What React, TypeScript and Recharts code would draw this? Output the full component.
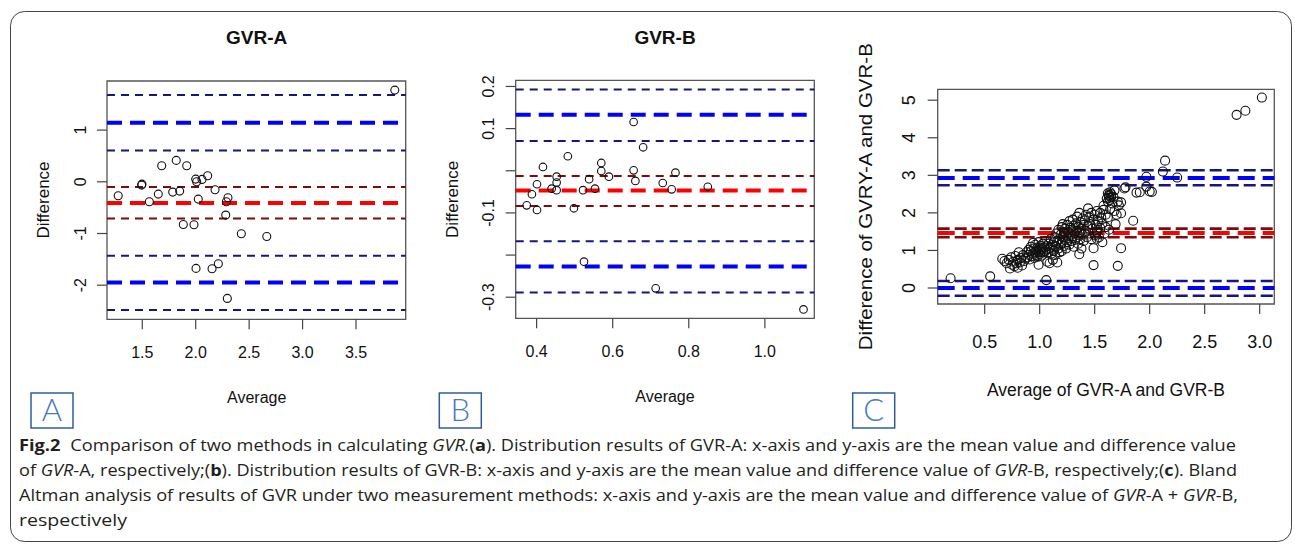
import React from "react";
import { ScatterChart, Scatter, XAxis, YAxis, ReferenceLine, ReferenceArea } from "recharts";

// ---- panel A: GVR-A ----
const aAvg = [3.863, 1.682, 1.818, 1.916, 2.0, 2.009, 2.059, 2.112, 1.494, 1.497, 1.275, 1.566, 1.65, 1.785, 1.85, 2.024, 2.181, 2.302, 2.287, 2.281, 1.884, 1.984, 2.427, 2.665, 2.003, 2.153, 2.212, 2.296];
const aDiff = [1.774, 0.31, 0.414, 0.31, 0.052, 0.0, 0.046, 0.116, -0.064, -0.045, -0.27, -0.387, -0.238, -0.199, -0.18, -0.335, -0.155, -0.309, -0.387, -0.644, -0.825, -0.831, -1.006, -1.057, -1.675, -1.683, -1.586, -2.256];
const aMean = -0.41;
const aMeanCi = [-0.1, -0.71];
const aLoa = [1.14, -1.95];
const aLoaCi = [1.677, 0.607, -1.43, -2.48];
const aXTicks = [1.5, 2.0, 2.5, 3.0, 3.5];
const aYTicks = [1, 0, -1, -2];

// ---- panel B: GVR-B ----
const bAvg = [0.655, 0.68, 0.482, 0.4166, 0.57, 0.57, 0.655, 0.765, 0.59, 0.4526, 0.538, 0.4526, 0.401, 0.6596, 0.7316, 0.4395, 0.4526, 0.522, 0.5534, 0.755, 0.85, 0.3876, 0.374, 0.401, 0.498, 0.5245, 0.713, 1.1016];
const bDiff = [0.1157, 0.0557, 0.0344, 0.009, 0.0185, -0.0005, 0.001, -0.0045, -0.014, -0.014, -0.02, -0.028, -0.032, -0.024, -0.029, -0.0424, -0.046, -0.046, -0.0424, -0.044, -0.038, -0.0557, -0.082, -0.093, -0.089, -0.2156, -0.279, -0.329];
const bMean = -0.047;
const bMeanCi = [-0.0123, -0.0835];
const bLoa = [0.133, -0.227];
const bLoaCi = [0.193, 0.0707, -0.167, -0.289];
const bXTicks = [0.4, 0.6, 0.8, 1.0];
const bYTicks = [0.2, 0.1, 0.0, -0.1, -0.2, -0.3];
const bHiddenY = [0.0, -0.2];

// ---- panel C: GVR-A vs GVR-B (average, difference) ----
const cPoints: [number, number][] = [
  [0.19, 0.26], [0.55, 0.31],
  [0.66, 0.78], [0.68, 0.72], [0.7, 0.66], [0.72, 0.75], [0.73, 0.52], [0.74, 0.82], [0.75, 0.62], [0.76, 0.7],
  [0.77, 0.58], [0.78, 0.85], [0.79, 0.66], [0.8, 0.54], [0.8, 0.75], [0.81, 0.95], [0.82, 0.68], [0.83, 0.8],
  [0.84, 0.6], [0.85, 0.88], [0.86, 0.72], [0.87, 0.78],
  [0.88, 0.95], [0.89, 0.82], [0.9, 1.02], [0.9, 0.88], [0.91, 0.76], [0.92, 0.98], [0.92, 1.1], [0.93, 0.85],
  [0.94, 1.2], [0.94, 0.92], [0.95, 1.05], [0.95, 0.8], [0.96, 0.96], [0.96, 1.15], [0.97, 0.88], [0.97, 1.0],
  [0.98, 1.08], [0.98, 0.83], [0.99, 0.95], [0.99, 1.22], [1.0, 1.02], [1.0, 0.9], [0.99, 0.62], [1.01, 1.12],
  [1.01, 0.97], [1.02, 1.05], [1.02, 0.86], [1.03, 1.18], [1.03, 0.95],
  [1.04, 1.08], [1.05, 0.98], [1.05, 1.25], [1.06, 1.02], [1.06, 0.21], [1.07, 1.12], [1.07, 0.7], [1.08, 0.95],
  [1.08, 1.18], [1.09, 1.05], [1.09, 0.66], [1.1, 1.1], [1.1, 1.3], [1.11, 0.92], [1.11, 1.02], [1.12, 1.15],
  [1.12, 0.75], [1.13, 1.22], [1.13, 1.0], [1.14, 1.35], [1.14, 0.88], [1.15, 1.1], [1.15, 1.45], [1.16, 1.25],
  [1.16, 0.68], [1.17, 1.05], [1.17, 1.55], [1.18, 1.3], [1.18, 0.95], [1.19, 1.42], [1.19, 1.15], [1.2, 1.62],
  [1.2, 1.2], [1.2, 0.98],
  [1.21, 1.35], [1.21, 1.7], [1.22, 1.12], [1.22, 1.48], [1.23, 1.28], [1.23, 1.58], [1.24, 1.05], [1.24, 1.4],
  [1.25, 1.68], [1.25, 1.22], [1.26, 1.5], [1.26, 1.32], [1.27, 1.15], [1.27, 1.78], [1.28, 1.42], [1.28, 1.6],
  [1.29, 1.25], [1.3, 1.55], [1.3, 1.38], [1.3, 1.82], [1.31, 1.1], [1.31, 1.65], [1.32, 1.45], [1.32, 1.28],
  [1.33, 1.72], [1.33, 1.52], [1.34, 1.35], [1.34, 1.9], [1.35, 1.62], [1.35, 1.18], [1.36, 1.48], [1.36, 2.0],
  [1.36, 0.9], [1.37, 1.75], [1.37, 1.3], [1.38, 1.58], [1.38, 1.05], [1.39, 1.85], [1.39, 1.42], [1.4, 1.68],
  [1.4, 1.25],
  [1.41, 1.8], [1.42, 1.52], [1.42, 1.95], [1.43, 1.35], [1.44, 2.12], [1.44, 1.65], [1.45, 1.45], [1.45, 1.88],
  [1.46, 1.7], [1.47, 1.3], [1.47, 2.0], [1.48, 1.58], [1.49, 0.61], [1.49, 1.06], [1.49, 1.82], [1.5, 1.4],
  [1.5, 1.95], [1.51, 1.68], [1.52, 2.05], [1.52, 1.5], [1.52, 1.31], [1.53, 1.78], [1.54, 1.35], [1.55, 2.0],
  [1.55, 1.6], [1.56, 1.88], [1.57, 1.72], [1.57, 1.22], [1.58, 2.19], [1.58, 2.08], [1.59, 1.45], [1.6, 1.95],
  [1.6, 1.62],
  [1.61, 2.38], [1.62, 2.52], [1.62, 2.3], [1.63, 2.45], [1.63, 2.4], [1.63, 2.48], [1.64, 2.55], [1.64, 2.35],
  [1.65, 2.42], [1.65, 2.5], [1.62, 1.88], [1.63, 1.55], [1.64, 2.1], [1.66, 2.25], [1.67, 2.43], [1.68, 2.6],
  [1.68, 2.05], [1.69, 1.7], [1.7, 1.95], [1.71, 0.59], [1.71, 2.3], [1.72, 2.2], [1.74, 1.06], [1.74, 1.99],
  [1.74, 2.28], [1.77, 2.65], [1.78, 2.68],
  [1.85, 1.79], [1.88, 2.54], [1.91, 2.55], [1.97, 2.96], [1.97, 2.7], [2.0, 2.57], [2.02, 2.56], [2.12, 3.1],
  [2.14, 3.39], [2.25, 2.94], [2.79, 4.61], [2.87, 4.72], [3.02, 5.07],
];
const cMean = 1.465;
const cMeanCi = [1.58, 1.35];
const cLoa = [2.93, 0.0];
const cLoaCi = [3.134, 2.735, 0.186, -0.205];
const cXTicks = [0.5, 1.0, 1.5, 2.0, 2.5, 3.0];
const cYTicks = [0, 1, 2, 3, 4, 5];

const FONT = "'Liberation Sans', Arial, Helvetica, sans-serif";
const NAVY = "#16167e";
const BLUE = "#0000ff";
const RED = "#ff0000";
const DARKRED = "#7d0b0b";

type LineStyle = { thin: number; thick: number; thinDash: string; thickDash: string };

interface PanelProps {
  left: number;
  width: number;
  height: number;
  margin: { top: number; right: number; bottom: number; left: number };
  xDomain: [number, number];
  yDomain: [number, number];
  xTicks: number[];
  yTicks: number[];
  xFmt: (v: number) => string;
  yFmt: (v: number) => string;
  xLabelY: number;
  yLabelX: number;
  tickFont: number;
  data: { x: number; y: number }[];
  r: number;
  mean: number;
  meanCi: number[];
  loa: number[];
  loaCi: number[];
  style: LineStyle;
}

function Panel(p: PanelProps) {
  const XTick = (props: any) => (
    <text x={props.x} y={p.xLabelY} dy="0.36em" textAnchor="middle" fontSize={p.tickFont} fontFamily={FONT} fill="#111">
      {p.xFmt(props.payload.value)}
    </text>
  );
  const YTick = (props: any) => (
    <text
      x={p.yLabelX}
      y={props.y}
      dy="0.36em"
      transform={`rotate(-90 ${p.yLabelX} ${props.y})`}
      textAnchor="middle"
      fontSize={p.tickFont}
      fontFamily={FONT}
      fill="#111"
    >
      {p.yFmt(props.payload.value)}
    </text>
  );
  const dot = (props: any) => (
    <circle cx={props.cx} cy={props.cy} r={p.r} fill="none" stroke="#111" strokeWidth={1.1} />
  );
  const s = p.style;
  return (
    <div style={{ position: "absolute", left: p.left, top: 0 }}>
      <ScatterChart width={p.width} height={p.height} margin={p.margin}>
        <XAxis
          type="number"
          dataKey="x"
          domain={p.xDomain}
          allowDataOverflow
          ticks={p.xTicks}
          interval={0}
          height={30}
          axisLine={false}
          tickLine={{ stroke: "#444", strokeWidth: 1.2 }}
          tickSize={10}
          tick={XTick}
        />
        <YAxis
          type="number"
          dataKey="y"
          domain={p.yDomain}
          allowDataOverflow
          ticks={p.yTicks}
          interval={0}
          width={40}
          axisLine={false}
          tickLine={{ stroke: "#444", strokeWidth: 1.2 }}
          tickSize={10}
          tick={YTick}
        />
        <Scatter data={p.data} shape={dot} isAnimationActive={false} />
        {p.loaCi.map((v) => (
          <ReferenceLine key={"lc" + v} y={v} stroke={NAVY} strokeWidth={s.thin} strokeDasharray={s.thinDash} />
        ))}
        {p.meanCi.map((v) => (
          <ReferenceLine key={"mc" + v} y={v} stroke={DARKRED} strokeWidth={s.thin} strokeDasharray={s.thinDash} />
        ))}
        {p.loa.map((v) => (
          <ReferenceLine key={"l" + v} y={v} stroke={BLUE} strokeWidth={s.thick} strokeDasharray={s.thickDash} />
        ))}
        <ReferenceLine y={p.mean} stroke={RED} strokeWidth={s.thick} strokeDasharray={s.thickDash} />
        <ReferenceArea
          x1={p.xDomain[0]}
          x2={p.xDomain[1]}
          y1={p.yDomain[0]}
          y2={p.yDomain[1]}
          fill="none"
          fillOpacity={0}
          stroke="#555"
          strokeWidth={1.3}
        />
      </ScatterChart>
    </div>
  );
}

const abStyle: LineStyle = { thin: 2, thick: 4, thinDash: "8 6", thickDash: "15 8" };
const cStyle: LineStyle = { thin: 2.6, thick: 4, thinDash: "12 5", thickDash: "17 8" };

function PanelTag({ x, letter }: { x: number; letter: string }) {
  return (
    <g>
      <rect x={x} y={393} width={42} height={35} fill="none" stroke="#2f5c9f" strokeWidth={1.5} />
      <text x={x + 21} y={421} textAnchor="middle" fontSize={31} fontFamily="Lato, 'Open Sans', sans-serif" fontWeight={300} fill="#4878c4">
        {letter}
      </text>
    </g>
  );
}

const CAP = "'Open Sans', 'Noto Sans', sans-serif";

export default function App() {
  const aData = aAvg.map((x, i) => ({ x, y: aDiff[i] }));
  const bData = bAvg.map((x, i) => ({ x, y: bDiff[i] }));
  const cData = cPoints.map(([x, y]) => ({ x, y }));
  const f1 = (v: number) => v.toFixed(1);
  const f0 = (v: number) => String(v);
  return (
    <div style={{ position: "absolute", left: 0, top: 0, width: 1295, height: 550, background: "#fff" }}>
      <Panel
        left={0}
        width={430}
        height={430}
        margin={{ top: 81, right: 24.3, bottom: 80.7, left: 67 }}
        xDomain={[1.17, 3.965]}
        yDomain={[-2.66, 1.95]}
        xTicks={aXTicks}
        yTicks={aYTicks}
        xFmt={f1}
        yFmt={f0}
        xLabelY={352.7}
        yLabelX={80}
        tickFont={16}
        data={aData}
        r={4}
        mean={aMean}
        meanCi={aMeanCi}
        loa={aLoa}
        loaCi={aLoaCi}
        style={abStyle}
      />
      <Panel
        left={430}
        width={420}
        height={430}
        margin={{ top: 80.3, right: 35.7, bottom: 81.7, left: 45.7 }}
        xDomain={[0.345, 1.13]}
        yDomain={[-0.35, 0.2146]}
        xTicks={bXTicks}
        yTicks={bYTicks}
        xFmt={f1}
        yFmt={(v) => (bHiddenY.some((h) => Math.abs(h - v) < 1e-9) ? "" : v.toFixed(1))}
        xLabelY={351.7}
        yLabelX={58.3}
        tickFont={16}
        data={bData}
        r={3.8}
        mean={bMean}
        meanCi={bMeanCi}
        loa={bLoa}
        loaCi={bLoaCi}
        style={abStyle}
      />
      <Panel
        left={850}
        width={440}
        height={430}
        margin={{ top: 89.3, right: 15.7, bottom: 96, left: 47.7 }}
        xDomain={[0.073, 3.133]}
        yDomain={[-0.426, 5.29]}
        xTicks={cXTicks}
        yTicks={cYTicks}
        xFmt={f1}
        yFmt={f0}
        xLabelY={341.7}
        yLabelX={58.3}
        tickFont={18}
        data={cData}
        r={4.5}
        mean={cMean}
        meanCi={cMeanCi}
        loa={cLoa}
        loaCi={cLoaCi}
        style={cStyle}
      />
      <svg width={1295} height={550} style={{ position: "absolute", left: 0, top: 0, pointerEvents: "none" }}>
        <rect x={10.5} y={11.5} width={1281} height={530} rx={14} fill="none" stroke="#444" strokeWidth={1} />
        <g fontFamily={FONT} fill="#111">
          <text x={256.7} y={44} textAnchor="middle" fontSize={19} fontWeight="bold">GVR-A</text>
          <text x={665} y={44} textAnchor="middle" fontSize={19} fontWeight="bold">GVR-B</text>
          <text x={256.7} y={402.5} textAnchor="middle" fontSize={16}>Average</text>
          <text x={665} y={401.5} textAnchor="middle" fontSize={16}>Average</text>
          <text x={1106} y={396.3} textAnchor="middle" fontSize={17.5}>Average of GVR-A and GVR-B</text>
          <text x={42.7} y={200} dy="0.36em" transform="rotate(-90 42.7 200)" textAnchor="middle" fontSize={17}>Difference</text>
          <text x={451.7} y={199.3} dy="0.36em" transform="rotate(-90 451.7 199.3)" textAnchor="middle" fontSize={17}>Difference</text>
          <text x={866} y={196.7} dy="0.36em" transform="rotate(-90 866 196.7)" textAnchor="middle" fontSize={18} textLength={307} lengthAdjust="spacingAndGlyphs">
            Difference of GVRY-A and GVR-B
          </text>
        </g>
        <PanelTag x={31} letter="A" />
        <PanelTag x={439.3} letter="B" />
        <PanelTag x={852.7} letter="C" />
        <g fontFamily={CAP} fontSize={16.5} fill="#231f20">
          <text x={19} y={451} textLength={1217} lengthAdjust="spacingAndGlyphs">
            <tspan fontWeight="bold">Fig.2</tspan>
            <tspan dx={9}>{"Comparison of two methods in calculating "}</tspan>
            <tspan fontStyle="italic">{"GVR."}</tspan>
            {"("}
            <tspan fontWeight="bold">a</tspan>
            {"). Distribution results of GVR-A: x-axis and y-axis are the mean value and difference value"}
          </text>
          <text x={19} y={476} textLength={1218} lengthAdjust="spacingAndGlyphs">
            {"of "}
            <tspan fontStyle="italic">GVR</tspan>
            {"-A, respectively;("}
            <tspan fontWeight="bold">b</tspan>
            {"). Distribution results of GVR-B: x-axis and y-axis are the mean value and difference value of "}
            <tspan fontStyle="italic">GVR</tspan>
            {"-B, respectively;("}
            <tspan fontWeight="bold">c</tspan>
            {"). Bland"}
          </text>
          <text x={19} y={501} textLength={1219} lengthAdjust="spacingAndGlyphs">
            {"Altman analysis of results of GVR under two measurement methods: x-axis and y-axis are the mean value and difference value of "}
            <tspan fontStyle="italic">GVR</tspan>
            {"-A + "}
            <tspan fontStyle="italic">GVR</tspan>
            {"-B,"}
          </text>
          <text x={19} y={526} textLength={108} lengthAdjust="spacingAndGlyphs">
            respectively
          </text>
        </g>
      </svg>
    </div>
  );
}
